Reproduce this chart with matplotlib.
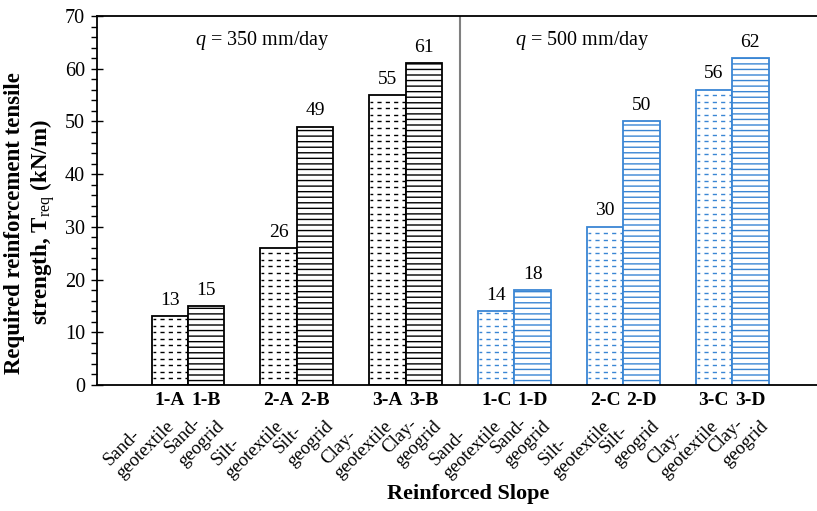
import numpy as np
import matplotlib
matplotlib.use("Agg")
import matplotlib.pyplot as plt
from matplotlib.ticker import MultipleLocator

plt.rcParams['font.family'] = 'Liberation Serif'
plt.rcParams['mathtext.fontset'] = 'custom'
plt.rcParams['mathtext.rm'] = 'Liberation Serif'
plt.rcParams['mathtext.it'] = 'Liberation Serif:italic'
plt.rcParams['mathtext.bf'] = 'Liberation Serif:bold'
plt.rcParams['hatch.linewidth'] = 1.0

# data
codes_geotextile = ["1-A", "2-A", "3-A", "1-C", "2-C", "3-C"]
codes_geogrid = ["1-B", "2-B", "3-B", "1-D", "2-D", "3-D"]
soils = ["Sand", "Silt", "Clay", "Sand", "Silt", "Clay"]
t_geotextile = [13, 26, 55, 14, 30, 56]
t_geogrid = [15, 49, 61, 18, 50, 62]
rain_labels = ["$q$ = 350 mm/day", "$q$ = 500 mm/day"]

blue = '#3A86D4'
colors = ['black'] * 3 + [blue] * 3

fig = plt.figure(figsize=(8.17, 5.11), dpi=100)
ax = fig.add_axes([97 / 817, 1 - 385 / 511, 720 / 817, 369 / 511])

x = np.arange(len(soils))
w = 0.335
tr = ax.get_xaxis_transform()

for i in range(len(soils)):
    c = colors[i]
    # geotextile: dashed rows
    x0 = x[i] - w
    ax.bar(x0, t_geotextile[i], width=w, align='edge', facecolor='white',
           edgecolor=c, linewidth=1.3, zorder=2)
    ys = np.arange(1.25, t_geotextile[i], 1.25)
    ax.hlines(ys, x0 + 0.01, x0 + w - 0.01, colors=c, linewidth=1.0,
              linestyles=(1, (3, 3)), zorder=3)
    # geogrid: solid rows
    ax.bar(x[i], t_geogrid[i], width=w, align='edge', facecolor='white',
           edgecolor=c, hatch='---', linewidth=1.3, zorder=2)

    ax.text(x0 + w / 2, t_geotextile[i] + 1.4, str(t_geotextile[i]),
            ha='center', va='bottom', fontsize=14)
    ax.text(x[i] + w / 2, t_geogrid[i] + 1.4, str(t_geogrid[i]),
            ha='center', va='bottom', fontsize=14)

    # bold codes under bars
    ax.text(x0 + w / 2, -0.042, codes_geotextile[i], transform=tr,
            ha='center', va='center', fontsize=14, fontweight='bold')
    ax.text(x[i] + w / 2, -0.042, codes_geogrid[i], transform=tr,
            ha='center', va='center', fontsize=14, fontweight='bold')

    # rotated descriptions
    ax.text(x0 + w / 2 - 0.16, -0.052, soils[i] + "-\ngeotextile", transform=tr,
            rotation=45, rotation_mode='anchor', ha='right', va='top',
            multialignment='left', fontsize=13.5, linespacing=1.15)
    ax.text(x[i] + w / 2 - 0.04, -0.052, soils[i] + "-\ngeogrid", transform=tr,
            rotation=45, rotation_mode='anchor', ha='right', va='top',
            multialignment='left', fontsize=13.5, linespacing=1.15)

ax.axvline(2.5, color='#808080', linewidth=1.5, zorder=1)
ax.text(0.68, 65.3, rain_labels[0], ha='center', va='center', fontsize=14.5)
ax.text(3.62, 65.3, rain_labels[1], ha='center', va='center', fontsize=14.5)

ax.set_xlim(-0.836, 5.78)
ax.set_ylim(0, 70)
ax.set_xticks([])
ax.yaxis.set_major_locator(MultipleLocator(10))
ax.yaxis.set_minor_locator(MultipleLocator(2))
ax.tick_params(axis='y', which='major', direction='inout', length=9, width=1,
               labelsize=14.5, pad=4)
ax.tick_params(axis='y', which='minor', direction='out', length=4, width=1)
ax.spines['right'].set_visible(False)
for s in ['left', 'bottom', 'top']:
    ax.spines[s].set_linewidth(1.3)

ax.set_ylabel("Required reinforcement tensile\nstrength, T$_{\\rm req}$ (kN/m)",
              fontsize=16.5, fontweight='bold', linespacing=1.15)
ax.yaxis.set_label_coords(-0.056, 0.44)
fig.text(468 / 817, 1 - 494 / 511, "Reinforced Slope", ha='center', va='center',
         fontsize=16, fontweight='bold')

fig.savefig("out.png", dpi=100)
